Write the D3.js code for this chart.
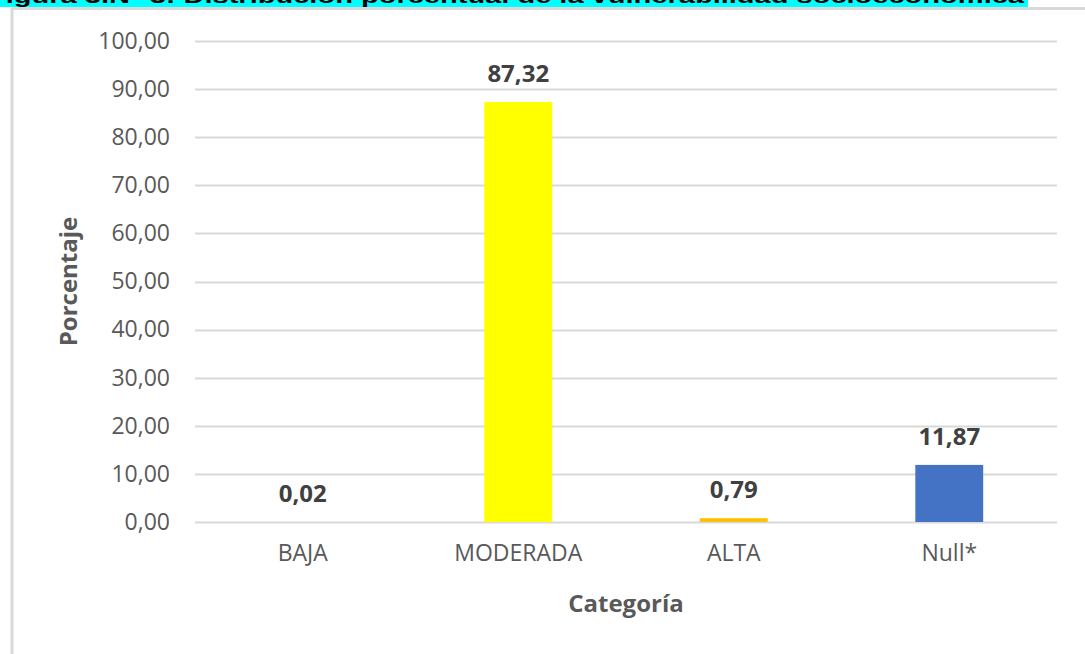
<!DOCTYPE html>
<html>
<head>
<meta charset="utf-8">
<script src="https://cdn.jsdelivr.net/npm/d3@7/dist/d3.min.js"></script>
<style>
  html, body { margin: 0; padding: 0; background: #fff; }
  svg { display: block; }
</style>
</head>
<body>
<svg id="chart" width="1085" height="654"></svg>
<script>
// Distribución porcentual de la vulnerabilidad socioeconómica
const categories = ["BAJA", "MODERADA", "ALTA", "Null*"];
const values = [0.02, 87.32, 0.79, 11.87];
const barColors = ["#ffff99", "#ffff00", "#ffc000", "#4472c4"];
const yTicks = [0, 10, 20, 30, 40, 50, 60, 70, 80, 90, 100];
const titleText = "Figura 3.N° 3: Distribución porcentual de la vulnerabilidad socioeconómica";

const svg = d3.select("#chart");
const W = 1085, H = 654;
const fontFamily = "'Open Sans', 'Noto Sans', sans-serif";
const fmt = v => d3.format(".2f")(v).replace(".", ",");

// highlighted caption strip (runs off the top edge)
svg.append("rect").attr("x", 0).attr("y", 0).attr("width", 1028).attr("height", 7)
  .attr("fill", "#00ffff");
svg.append("text")
  .attr("x", -12).attr("y", 3)
  .attr("font-family", "'Liberation Sans', Arial, sans-serif")
  .attr("font-weight", "bold").attr("font-size", 21)
  .attr("textLength", 1036).attr("lengthAdjust", "spacingAndGlyphs")
  .attr("fill", "#000")
  .text(titleText);

// chart frame
svg.append("line").attr("x1", 11.5).attr("x2", W).attr("y1", 8.5).attr("y2", 8.5)
  .attr("stroke", "#d9d9d9").attr("stroke-width", 3);
svg.append("line").attr("x1", 12).attr("x2", 12).attr("y1", 8).attr("y2", H)
  .attr("stroke", "#d9d9d9").attr("stroke-width", 3);

const plot = { left: 195, right: 1057, top: 41, bottom: 522 };

const x = d3.scaleBand().domain(categories)
  .range([plot.left, plot.right]).paddingInner(0.685).paddingOuter(0.3425);
const y = d3.scaleLinear().domain([0, 100]).range([plot.bottom, plot.top]);

// gridlines
svg.append("g").selectAll("line").data(yTicks).join("line")
  .attr("x1", plot.left).attr("x2", plot.right)
  .attr("y1", d => Math.round(y(d)) + 0.5).attr("y2", d => Math.round(y(d)) + 0.5)
  .attr("stroke", "#d9d9d9").attr("stroke-width", 2);

// y axis labels
const yAxis = d3.axisLeft(y).tickValues(yTicks).tickFormat(fmt).tickSize(0).tickPadding(0);
const gy = svg.append("g").attr("transform", `translate(${plot.left - 25},0)`).call(yAxis);
gy.select(".domain").remove();
gy.selectAll("text").attr("font-family", fontFamily).attr("font-size", 23)
  .attr("fill", "#595959");

// x axis labels
const xAxis = d3.axisBottom(x).tickSize(0).tickPadding(0);
const gx = svg.append("g").attr("transform", `translate(0,${plot.bottom + 23})`).call(xAxis);
gx.select(".domain").remove();
gx.selectAll("text").attr("font-family", fontFamily).attr("font-size", 23)
  .attr("fill", "#595959");

// bars
const data = categories.map((c, i) => ({ c, v: values[i], color: barColors[i] }));
svg.append("g").selectAll("rect").data(data).join("rect")
  .attr("x", d => x(d.c)).attr("width", x.bandwidth())
  .attr("y", d => y(d.v)).attr("height", d => Math.max(plot.bottom - y(d.v), d.v > 0.5 ? 2 : 0))
  .attr("fill", d => d.color);

// value labels
svg.append("g").selectAll("text").data(data).join("text")
  .attr("x", d => x(d.c) + x.bandwidth() / 2)
  .attr("y", d => y(d.v) - 20)
  .attr("text-anchor", "middle")
  .attr("font-family", fontFamily).attr("font-weight", "bold").attr("font-size", 24)
  .attr("fill", "#404040")
  .text(d => fmt(d.v));

// axis titles
svg.append("text").attr("x", (plot.left + plot.right) / 2).attr("y", 612)
  .attr("text-anchor", "middle")
  .attr("font-family", fontFamily).attr("font-weight", "bold").attr("font-size", 24)
  .attr("fill", "#595959").text("Categoría");
svg.append("text")
  .attr("transform", `translate(77,${(plot.top + plot.bottom) / 2}) rotate(-90)`)
  .attr("text-anchor", "middle")
  .attr("font-family", fontFamily).attr("font-weight", "bold").attr("font-size", 24)
  .attr("fill", "#595959").text("Porcentaje");
</script>
</body>
</html>
